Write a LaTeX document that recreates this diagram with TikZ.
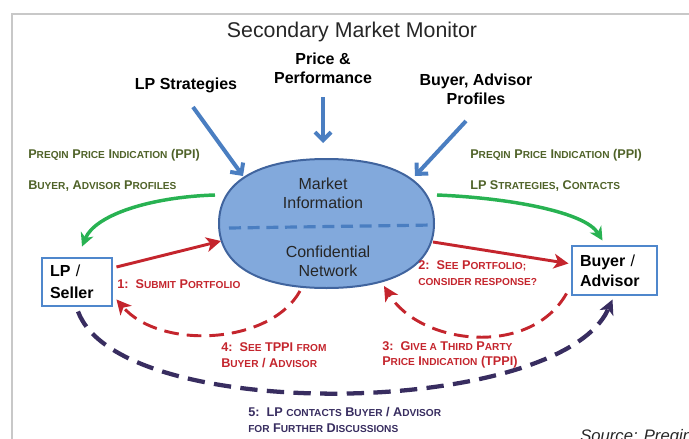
\documentclass[tikz,border=0pt]{standalone}
\usepackage{fontspec}
\setmainfont{Liberation Sans}
\usetikzlibrary{arrows.meta,calc}

\definecolor{framegray}{RGB}{200,200,200}
\definecolor{infoblue}{RGB}{74,126,193}
\definecolor{hubfill}{RGB}{130,169,220}
\definecolor{hubedge}{RGB}{64,100,158}
\definecolor{boxedge}{RGB}{79,135,204}
\definecolor{flowred}{RGB}{196,37,45}
\definecolor{feedgreen}{RGB}{40,178,82}
\definecolor{notegreen}{RGB}{79,98,40}
\definecolor{contactpurple}{RGB}{56,45,96}

% small capitals faked from a smaller upper-case size
\newcommand\smcp[1]{{\fontsize{7.6}{9}\selectfont\MakeUppercase{#1}}}

\begin{document}
\begin{tikzpicture}[x=0.75pt,y=-0.75pt,
  heading/.style={inner sep=0, text=black!85, font=\fontsize{16}{19}\selectfont},
  srclabel/.style={inner sep=0, align=center, font=\fontsize{12}{14.25}\selectfont\bfseries},
  hubtext/.style={inner sep=0, align=center, text=black!85, font=\fontsize{12}{14}\selectfont},
  note/.style={anchor=west, inner sep=0, text=notegreen, font=\fontsize{9.5}{11}\selectfont\bfseries},
  steplabel/.style={anchor=west, inner sep=0, align=left, text=flowred, font=\fontsize{9.5}{11.6}\selectfont\bfseries},
  party/.style={draw=boxedge, line width=2.2pt, fill=white, rectangle, inner sep=0, align=left},
  infoarrow/.style={draw=infoblue, line width=3pt, -{Straight Barb[length=6pt,width=12pt]}},
  feedarrow/.style={draw=feedgreen, line width=2.6pt, -{Stealth[length=10pt,width=10pt,inset=3pt]}},
  flowarrow/.style={draw=flowred, line width=2.2pt, -{Stealth[length=11pt,width=11pt,inset=3pt]}},
  flowdash/.style={flowarrow, dash pattern=on 11pt off 6pt},
  contactdash/.style={draw=contactpurple, line width=3.2pt, dash pattern=on 13pt off 7pt,
                      -{Stealth[length=11pt,width=11pt,inset=3pt]}}
]
\useasboundingbox (0,0) rectangle (689,439);

% page frame
\draw[framegray, line width=1.5pt] (12,440) -- (12,14) -- (690,14);

% heading and source note
\node[heading] (title) at (352,32) {Secondary Market Monitor};
\node[anchor=base west, inner sep=0, text=black!85, font=\fontsize{12.5}{14}\selectfont\itshape]
  (source) at (580,441) {Source: Preqin};

% inputs feeding the hub
\node[srclabel] (lpstrat) at (186,85) {LP Strategies};
\node[srclabel] (price) at (323,68) {Price \&\\Performance};
\node[srclabel] (profiles) at (476,89) {Buyer, Advisor\\Profiles};

% central hub: a full oval
\coordinate (hub-e) at (434,223.5);
\coordinate (hub-n) at (326.5,159);
\coordinate (hub-w) at (219,223.5);
\coordinate (hub-s) at (326.5,288);
\draw[hubedge, line width=1.5pt, fill=hubfill]
  (hub-e) .. controls (434,182.2) and (395.3,159) .. (hub-n)
          .. controls (257.7,159) and (219,182.2) .. (hub-w)
          .. controls (219,264.8) and (257.7,288) .. (hub-s)
          .. controls (395.3,288) and (434,264.8) .. cycle;
\node[hubtext] (market) at (323,193) {Market\\Information};
\node[hubtext] (network) at (328,261.5) {Confidential\\Network};
\coordinate (split-w) at (229,228);
\coordinate (split-e) at (433,225);
\draw[infoblue, line width=2.4pt, dash pattern=on 9pt off 5pt] (split-w) -- (split-e);

% the two parties
\node[party, minimum width=52.5pt, minimum height=36pt, text width=40.5pt,
      font=\fontsize{12}{16.5}\selectfont\bfseries] (lp) at (77,282) {LP \textmd{/}\\Seller};
\node[party, minimum width=63.75pt, minimum height=36.75pt, text width=51.75pt,
      font=\fontsize{12}{15}\selectfont\bfseries] (buyer) at (614.5,270.5) {Buyer \textmd{/}\\Advisor};

% ports around the hub outline
\coordinate (strat-tail) at (193,107);
\coordinate (price-tail) at (323,97);
\coordinate (prof-tail) at (466,121);
\coordinate (port-nw) at (243,176);
\coordinate (port-n) at (323,143);
\coordinate (port-ne) at (415,176);
\coordinate (port-wnw) at (215,195);
\coordinate (port-ene) at (437,195);
\coordinate (port-w) at (221,241);
\coordinate (port-e) at (433,242);
\coordinate (port-se) at (384,286);
\coordinate (port-ssw) at (300,291);

% information inputs
\draw[infoarrow] (strat-tail) -- (port-nw);
\draw[infoarrow] (price-tail) -- (port-n);
\draw[infoarrow] (prof-tail) -- (port-ne);

% information passed out to each party
\draw[feedarrow] (port-wnw) .. controls (150,197) and (95,215) .. ($(lp.north)+(5,-10)$);
\draw[feedarrow] (port-ene) .. controls (510,198) and (585,212) .. ($(buyer.north)+(-12,-4)$);

\node[note] (ppi-left) at (28,155) {P\smcp{reqin} P\smcp{rice} I\smcp{ndication} (PPI)};
\node[note] (prof-left) at (28,186) {B\smcp{uyer}, A\smcp{dvisor} P\smcp{rofiles}};
\node[note] (ppi-right) at (470,155) {P\smcp{reqin} P\smcp{rice} I\smcp{ndication} (PPI)};
\node[note] (strat-right) at (470,186) {LP S\smcp{trategies}, C\smcp{ontacts}};

% numbered steps
\draw[flowarrow] ($(lp.east)+(3,-15)$) -- (port-w);
\draw[flowarrow] (port-e) -- ($(buyer.west)+(-2,-7)$);
\draw[flowdash] ($(buyer.south west)+(-4,-3)$) .. controls (530,358) and (420,345) .. (port-se);
\draw[flowdash] (port-ssw) .. controls (270,345) and (160,350) .. ($(lp.south east)+(3,-8)$);
\draw[contactdash] ($(lp.south)+(1,4)$) .. controls (120,425) and (560,418) .. ($(buyer.south)+(-2,3)$);

\node[steplabel] (s1) at (117,284) {1:\ \ S\smcp{ubmit} P\smcp{ortfolio}};
\node[steplabel] (s2) at (418,273) {2:\ \ S\smcp{ee} P\smcp{ortfolio;}\\\smcp{consider response?}};
\node[steplabel] (s4) at (221,355) {4:\ \ S\smcp{ee} TPPI \smcp{from}\\B\smcp{uyer} / A\smcp{dvisor}};
\node[steplabel] (s3) at (382,355) {3:\ \ G\smcp{ive a} T\smcp{hird} P\smcp{arty}\\P\smcp{rice} I\smcp{ndication} (TPPI)};
\node[steplabel, text=contactpurple] (s5) at (248,420)
  {5:\ \ LP \smcp{contacts} B\smcp{uyer} / A\smcp{dvisor}\\\smcp{for} F\smcp{urther} D\smcp{iscussions}};
\end{tikzpicture}
\end{document}
